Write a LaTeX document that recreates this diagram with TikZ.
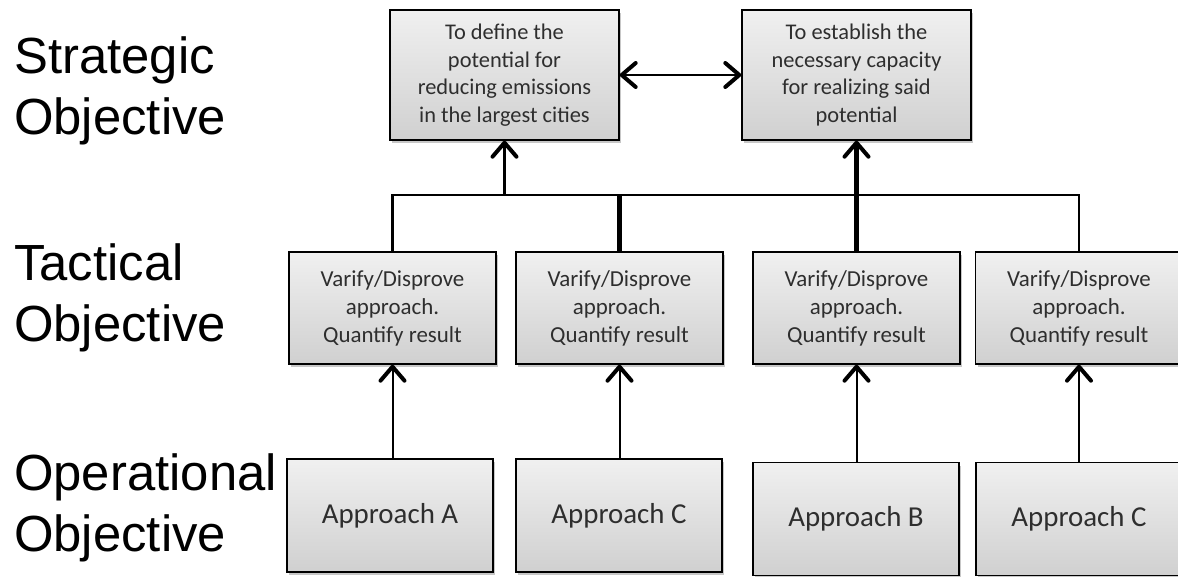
\documentclass[tikz,border=0pt]{standalone}
\usepackage{fontspec}
\setmainfont{Carlito}
\newfontfamily\levelfont{Liberation Sans}
\usetikzlibrary{arrows.meta,shadows}

\definecolor{boxtop}{HTML}{F0F0F0}
\definecolor{boxbottom}{HTML}{D0D0D0}

\begin{document}
\begin{tikzpicture}[x=1bp,y=-1bp,
  box/.style={draw=black, line width=1.4bp, top color=boxtop, bottom color=boxbottom,
    inner sep=0pt, align=center, text=black!82,
    drop shadow={shadow xshift=2bp, shadow yshift=-3bp, opacity=0.22, fill=black}},
  stratbox/.style={box, minimum width=229bp, minimum height=130bp,
    font=\fontsize{22.5}{27.6}\selectfont},
  tactbox/.style={box, minimum width=207bp, minimum height=112bp,
    font=\fontsize{23}{28.2}\selectfont},
  opbox/.style={box, minimum width=206bp, minimum height=113bp,
    font=\fontsize{29}{35}\selectfont},
  level/.style={anchor=north west, inner sep=0pt, align=left,
    font=\levelfont\fontsize{51}{62}\selectfont},
  barb/.tip={Straight Barb[length=14bp, width=24bp, line width=4bp, round]},
  link/.style={draw=black, line width=2bp},
]
\fill[white] (0,0) rectangle (1178,577);
\useasboundingbox (0,0) rectangle (1178,577);

% level captions
\node[level] (lvS) at (14,36) {Strategic\\Objective};
\node[level] (lvT) at (14,243) {Tactical\\Objective};
\node[level] (lvO) at (14,453) {Operational\\Objective};

% strategic objectives
\node[stratbox] (S1) at (504.5,75) {To define the\\potential for\\reducing emissions\\in the largest cities};
\node[stratbox] (S2) at (856.5,75) {To establish the\\necessary capacity\\for realizing said\\potential};

% tactical objectives
\node[tactbox] (T1) at (392.5,308) {Varify/Disprove\\approach.\\Quantify result};
\node[tactbox] (T2) at (619.5,308) {Varify/Disprove\\approach.\\Quantify result};
\node[tactbox] (T3) at (856.5,308) {Varify/Disprove\\approach.\\Quantify result};
\node[tactbox] (T4) at (1079,308) {Varify/Disprove\\approach.\\Quantify result};

% operational approaches
\node[opbox] (A1) at (390,515.5) {Approach A};
\node[opbox] (A2) at (619,515.5) {Approach C};
\node[opbox] (A3) at (856,519) {Approach B};
\node[opbox] (A4) at (1079,519) {Approach C};

% collecting bar between tactical and strategic levels
\coordinate (bar) at (0,195);
\draw[link, line width=2.4bp] (T1.north) -- (T1.north |- bar) -- (T4.north |- bar) -- (T4.north);
\draw[link, line width=4.2bp] (T2.north) -- (T2.north |- bar);
\draw[link, line width=5bp, -barb] (T3.north) -- (S2.south);
\draw[link, line width=3bp, -barb] (S1.south |- bar) -- (S1.south);

% mutual link between strategic objectives
\draw[link, barb-barb] (S1.east) -- (S2.west);

% approaches feed the tactical objectives
\draw[link, -barb] (T1.south |- A1.north) -- (T1.south);
\draw[link, -barb] (T2.south |- A2.north) -- (T2.south);
\draw[link, -barb] (T3.south |- A3.north) -- (T3.south);
\draw[link, -barb] (T4.south |- A4.north) -- (T4.south);
\end{tikzpicture}
\end{document}
